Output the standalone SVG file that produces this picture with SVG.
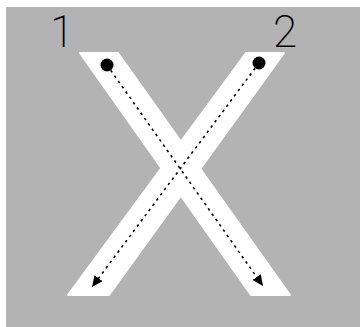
<svg xmlns="http://www.w3.org/2000/svg" width="360" height="327" viewBox="0 0 360 327">
<style>
.bg{fill:#b3b3b3}
.bar{fill:#fff;stroke:#fff;stroke-width:2;stroke-linejoin:round}
.path{fill:none;stroke:#000;stroke-width:1.6;stroke-dasharray:2.5 4}
.dot{fill:#000}
.num{font-family:Roboto,"Liberation Sans",sans-serif;font-weight:200;font-size:44px;fill:#000;text-anchor:middle}
</style>
<defs>
<marker id="ah" markerUnits="userSpaceOnUse" markerWidth="12" markerHeight="10" refX="11" refY="5" orient="auto" viewBox="0 0 12 10">
<path d="M0,0 L11,5 L0,10 Z" fill="#000"/>
</marker>
</defs>
<rect class="bg" x="6" y="7" width="354" height="320"/>
<g id="stroke1">
<polygon class="bar" points="80,53 118,53 290,295 251,295"/>
</g>
<g id="stroke2">
<polygon class="bar" points="246,53 284,53 109,295 68,295"/>
</g>
<g id="connectors">
<line class="path" x1="107" y1="65" x2="263" y2="286" marker-end="url(#ah)"/>
<line class="path" x1="259" y1="63" x2="92" y2="287" marker-end="url(#ah)"/>
</g>
<g id="start1">
<circle class="dot" cx="107" cy="65" r="6.5"/>
<text class="num" x="62" y="47">1</text>
</g>
<g id="start2">
<circle class="dot" cx="259" cy="63" r="6.5"/>
<text class="num" x="285" y="47">2</text>
</g>
</svg>
